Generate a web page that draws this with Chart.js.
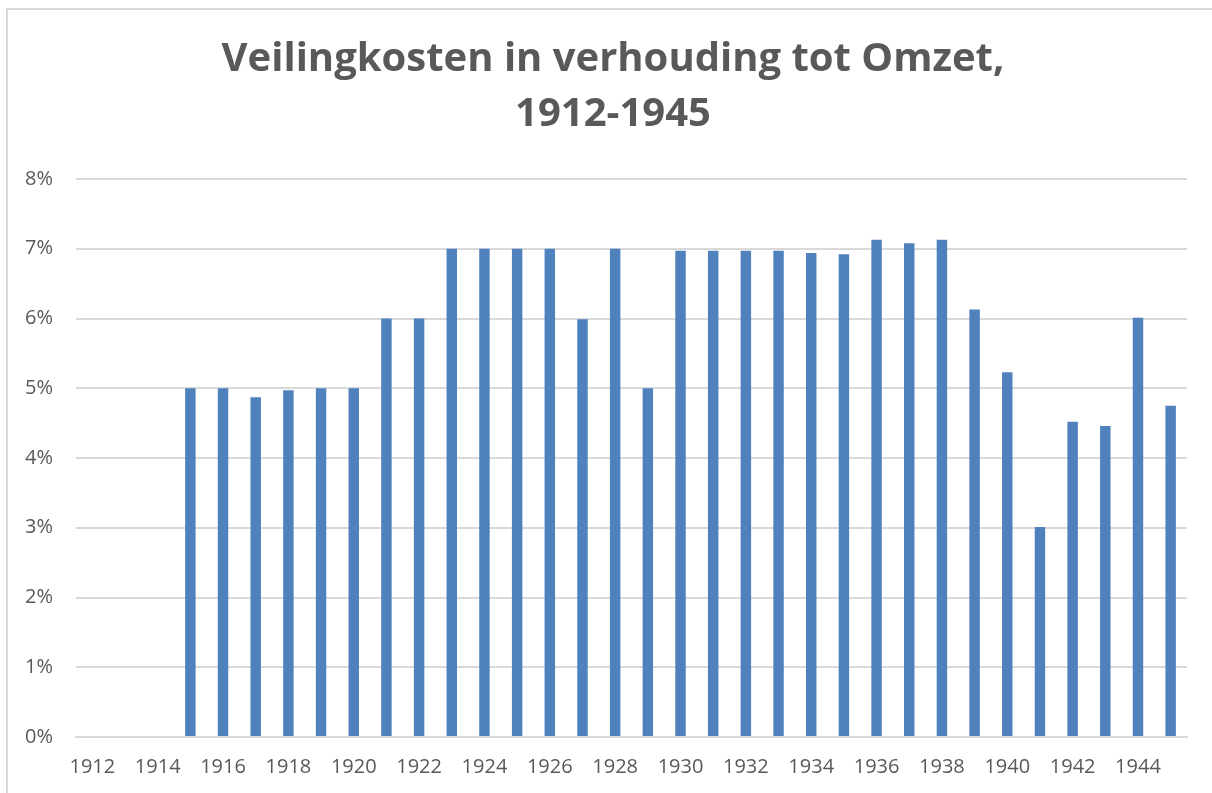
<!DOCTYPE html>
<html>
<head>
<meta charset="utf-8">
<script src="https://cdn.jsdelivr.net/npm/chart.js@4/dist/chart.umd.min.js"></script>
<style>
  html, body { margin: 0; padding: 0; background: #fff; }
  #wrap { position: relative; width: 1212px; height: 793px; overflow: hidden; }
  #frame { position: absolute; left: 6px; top: 8px; width: 1300px; height: 900px;
           border-left: 2px solid #D9D9D9; border-top: 2px solid #D9D9D9; pointer-events: none; }
  canvas { position: absolute; left: 0; top: 0; }
</style>
</head>
<body>
<div id="wrap">
  <canvas id="c" width="1212" height="793"></canvas>
  <div id="frame"></div>
</div>
<script>
const titleLines = ['Veilingkosten in verhouding tot Omzet,', '1912-1945'];
const years = ['1912','1913','1914','1915','1916','1917','1918','1919','1920','1921',
               '1922','1923','1924','1925','1926','1927','1928','1929','1930','1931',
               '1932','1933','1934','1935','1936','1937','1938','1939','1940','1941',
               '1942','1943','1944','1945'];
const costPct = [null, null, null, 5.0, 5.0, 4.87, 4.97, 5.0, 5.0, 6.0,
                 6.0, 7.0, 7.0, 7.0, 7.0, 5.99, 7.0, 5.0, 6.97, 6.97,
                 6.97, 6.97, 6.94, 6.92, 7.13, 7.08, 7.13, 6.13, 5.23, 3.01,
                 4.52, 4.46, 6.01, 4.75];
const yTicks = [0, 1, 2, 3, 4, 5, 6, 7, 8];

const grey = '#595959';
const tickFont = { family: "'Open Sans', 'Liberation Sans', sans-serif", size: 20 };

new Chart(document.getElementById('c'), {
  type: 'bar',
  data: {
    labels: years,
    datasets: [{
      data: costPct,
      backgroundColor: '#4F81BD',
      borderWidth: 0,
      barPercentage: 0.64,
      categoryPercentage: 0.5
    }]
  },
  options: {
    responsive: false,
    animation: false,
    layout: { padding: { left: 14, right: 0, top: 0, bottom: 0 } },
    plugins: {
      legend: { display: false },
      tooltip: { enabled: false },
      title: {
        display: true,
        text: titleLines,
        color: grey,
        font: { family: "'Open Sans', sans-serif", size: 40, weight: 'bold', lineHeight: 1.375 },
        padding: { top: 32, bottom: 37 }
      }
    },
    scales: {
      x: {
        grid: { display: false, drawTicks: false },
        border: { display: true, color: '#D9D9D9', width: 2 },
        ticks: {
          autoSkip: false,
          maxRotation: 0,
          minRotation: 0,
          padding: 18,
          color: grey,
          font: tickFont,
          callback: function(v, i) { return i % 2 === 0 ? years[i] : ''; }
        },
        afterFit: function(s) { s.height = 56; }
      },
      y: {
        min: 0,
        max: 8,
        afterBuildTicks: function(s) { s.ticks = yTicks.map(v => ({ value: v })); },
        grid: { color: '#D9D9D9', lineWidth: 2, drawTicks: false },
        border: { display: false },
        ticks: {
          padding: 23,
          color: grey,
          font: tickFont,
          callback: function(v) { return v + '%'; }
        },
        afterFit: function(s) { s.width = 62; }
      },
      yRight: {
        position: 'right',
        display: true,
        min: 0,
        max: 8,
        grid: { display: false, drawTicks: false },
        border: { display: false },
        ticks: { display: false },
        afterFit: function(s) { s.width = 25; }
      }
    }
  }
});
</script>
</body>
</html>
